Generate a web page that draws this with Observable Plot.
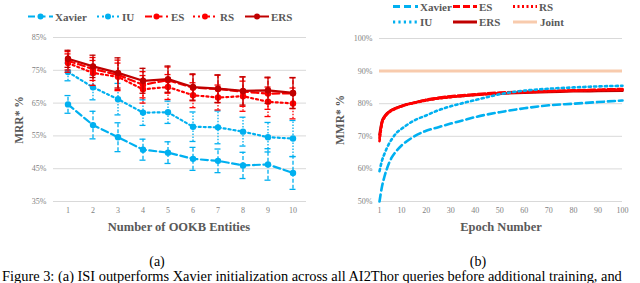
<!DOCTYPE html>
<html><head><meta charset="utf-8">
<script src="https://cdn.jsdelivr.net/npm/d3@7"></script>
<script src="https://cdn.jsdelivr.net/npm/@observablehq/plot@0.6"></script>
<style>
html,body{margin:0;padding:0;background:#fff;}
body{width:640px;height:283px;overflow:hidden;position:relative;font-family:"Liberation Serif","Times New Roman",serif;}
.abs{position:absolute;}
.c{position:absolute;transform:translate(-50%,-50%);white-space:nowrap;line-height:1;}
.title{font-weight:bold;color:#595959;}
.lgt{position:absolute;font-weight:bold;font-size:11px;color:#595959;white-space:nowrap;line-height:1;transform:translateY(-50%);}
</style>
</head><body>
<div id="chartA" class="abs" style="left:0;top:0"></div>
<div id="chartB" class="abs" style="left:320px;top:0"></div>
<svg id="legendSvg" class="abs" style="left:0;top:0" width="640" height="40"></svg>
<div id="labels"></div>
<script>
// ---------- Data: panel (a) ----------
const entities = [1,2,3,4,5,6,7,8,9,10];
const seriesNamesA = ["Xavier","IU","ES","RS","ERS"];
const xavierA = [64.6,58.3,54.6,50.8,49.9,48.0,47.4,46.0,46.3,43.7];
const xavierErrA = [2.7,4.2,4.4,3.2,3.3,3.5,3.6,4.0,4.8,5.0];
const iuA = [74.5,69.8,66.2,62.1,62.2,57.8,57.6,56.3,54.6,54.2];
const iuErrA = [2.7,3.8,4.8,3.9,3.4,4.5,5.0,4.4,4.5,5.5];
const esA = [77.9,75.4,73.6,70.6,72.0,69.7,69.3,68.5,67.9,68.0];
const esErrA = [2.8,3.5,4.5,4.0,4.0,4.0,4.2,4.5,4.8,4.7];
const rsA = [77.2,74.2,73.0,69.2,69.9,67.4,66.7,67.1,65.4,64.9];
const rsErrA = [2.8,3.8,4.2,4.2,3.8,3.8,3.8,4.6,4.5,4.7];
const ersA = [78.5,76.2,74.2,71.8,72.3,69.9,69.4,68.7,68.9,68.1];
const ersErrA = [2.6,3.4,4.6,3.8,4.0,4.0,4.2,4.3,4.0,4.7];
const yTicksA = [35,45,55,65,75,85];

// ---------- Data: panel (b) ----------
const epochs = [1,2,3,4,5,6,8,10,12,15,20,25,30,35,40,50,60,70,80,90,100];
const seriesNamesB = ["Xavier","IU","ES","RS","ERS"];
const xavierB = [50.0,54.5,57.6,60.0,62.0,63.5,65.6,67.2,68.4,69.9,71.7,72.8,73.9,74.9,75.9,77.4,78.6,79.5,80.0,80.5,81.0];
const iuB = [59.3,62.5,64.6,66.4,67.9,69.1,71.1,72.3,73.4,74.8,76.4,78.0,79.2,80.2,81.1,82.9,84.0,84.6,85.0,85.3,85.5];
const esB = [69.5,74.2,75.9,76.9,77.5,78.0,78.7,79.2,79.7,80.3,81.2,81.8,82.3,82.6,82.9,83.4,83.7,83.9,84.1,84.3,84.5];
const rsB = [68.5,73.9,75.7,76.7,77.4,77.9,78.6,79.2,79.7,80.2,81.0,81.6,82.0,82.4,82.7,83.2,83.5,83.8,84.0,84.2,84.3];
const ersB = [70.5,74.6,76.1,77.0,77.6,78.1,78.8,79.3,79.8,80.3,81.1,81.7,82.1,82.4,82.7,83.1,83.4,83.6,83.8,83.9,84.0];
const jointB = [90];
const xTicksB = [1,10,20,30,40,50,60,70,80,90,100];
const yTicksB = [50,60,70,80,90,100];

// ---------- Styles ----------
const BLUE = "#00B0F0", RED = "#FF0000", DARK = "#C00000", PEACH = "#F8CBAD";
const styleA = {
  Xavier: {color: BLUE, dash: "7,3.5", errDash: "4,2"},
  IU:     {color: BLUE, dash: "2,3",   errDash: "1.5,1.5"},
  ES:     {color: RED,  dash: "7,3.5", errDash: "4,2"},
  RS:     {color: RED,  dash: "2,3",   errDash: "1.5,1.5"},
  ERS:    {color: DARK, dash: null,    errDash: null}
};
const styleB = {
  Xavier: {color: BLUE, dash: "7,4"},
  IU:     {color: BLUE, dash: "2.2,3.2"},
  ES:     {color: RED,  dash: "7,3"},
  RS:     {color: RED,  dash: "2,2.5"},
  ERS:    {color: DARK, dash: null},
  Joint:  {color: PEACH, dash: null}
};
const dashOpt = d => d ? {strokeDasharray: d} : {};
const axisStyle = {fontFamily: '"Liberation Serif", "Times New Roman", serif', fontSize: "8px", color: "#7f7f7f", background: "transparent", overflow: "visible"};

// ---------- Panel (a) ----------
const valsA = {Xavier: [xavierA, xavierErrA], IU: [iuA, iuErrA], ES: [esA, esErrA], RS: [rsA, rsErrA], ERS: [ersA, ersErrA]};
const rowsA = seriesNamesA.flatMap(s => entities.map((e, i) => ({
  series: s, x: e, y: valsA[s][0][i], lo: valsA[s][0][i] - valsA[s][1][i], hi: valsA[s][0][i] + valsA[s][1][i]
})));
const marksA = [Plot.gridY(yTicksA, {stroke: "#d9d9d9", strokeOpacity: 1, strokeWidth: 1})];
for (const s of seriesNamesA) {
  const rows = rowsA.filter(d => d.series === s), st = styleA[s];
  marksA.push(
    Plot.ruleX(rows, {x: "x", y1: "lo", y2: "hi", stroke: st.color, strokeWidth: 1.3, ...dashOpt(st.errDash)}),
    Plot.tickY(rows, {x: "x", y: "lo", stroke: st.color, strokeWidth: 1.3, insetLeft: 9.5, insetRight: 9.5}),
    Plot.tickY(rows, {x: "x", y: "hi", stroke: st.color, strokeWidth: 1.3, insetLeft: 9.5, insetRight: 9.5}),
    Plot.line(rows, {x: "x", y: "y", stroke: st.color, strokeWidth: 2.2, ...dashOpt(st.dash)}),
    Plot.dot(rows, {x: "x", y: "y", fill: st.color, r: 3.2})
  );
}
marksA.push(
  Plot.axisX({tickSize: 0, tickPadding: 6, label: null}),
  Plot.axisY({ticks: yTicksA, tickFormat: d => d + "%", tickSize: 0, tickPadding: 7, label: null})
);
document.getElementById("chartA").append(Plot.plot({
  width: 320, height: 225, marginLeft: 53, marginRight: 14, marginTop: 37, marginBottom: 24,
  x: {type: "band", domain: entities, padding: 0},
  y: {domain: [35, 85]},
  style: axisStyle,
  marks: marksA
}));

// ---------- Panel (b) ----------
const valsB = {Xavier: xavierB, IU: iuB, ES: esB, RS: rsB, ERS: ersB};
const rowsB = seriesNamesB.flatMap(s => epochs.map((e, i) => ({series: s, x: e, y: valsB[s][i]})));
const marksB = [
  Plot.gridY(yTicksB, {stroke: "#d9d9d9", strokeOpacity: 1, strokeWidth: 1}),
  Plot.ruleY(jointB, {stroke: PEACH, strokeWidth: 3})
];
for (const s of ["ERS", "RS", "ES", "Xavier", "IU"]) {
  const st = styleB[s];
  marksB.push(Plot.line(rowsB.filter(d => d.series === s), {x: "x", y: "y", stroke: st.color, strokeWidth: 2.6, curve: "monotone-x", ...dashOpt(st.dash)}));
}
marksB.push(
  Plot.axisX({ticks: xTicksB, tickSize: 0, tickPadding: 6, label: null}),
  Plot.axisY({ticks: yTicksB, tickFormat: d => d + "%", tickSize: 0, tickPadding: 7, label: null})
);
document.getElementById("chartB").append(Plot.plot({
  width: 320, height: 225, marginLeft: 59, marginRight: 18, marginTop: 38, marginBottom: 24,
  x: {type: "linear", domain: [1, 100]},
  y: {domain: [50, 100]},
  style: axisStyle,
  marks: marksB
}));

// ---------- Legends ----------
const lsvg = d3.select("#legendSvg");
const labels = document.getElementById("labels");
function legendItem(x0, x1, tx, y, st, label, dot, w) {
  const line = lsvg.append("line").attr("x1", x0).attr("x2", x1).attr("y1", y).attr("y2", y)
    .attr("stroke", st.color).attr("stroke-width", w);
  if (st.dash) line.attr("stroke-dasharray", st.dash);
  if (dot) lsvg.append("circle").attr("cx", (x0 + x1) / 2).attr("cy", y).attr("r", 3).attr("fill", st.color);
  const t = document.createElement("div");
  t.className = "lgt"; t.textContent = label;
  t.style.left = tx + "px"; t.style.top = y + "px";
  labels.append(t);
}
const legA = [["Xavier", 28, 53, 55], ["IU", 97, 119, 122], ["ES", 145, 168, 171], ["RS", 193, 217, 220], ["ERS", 245, 269, 271]];
for (const [n, a, b, t] of legA) legendItem(a, b, t, 16.5, styleA[n], n, true, 2);
const legB = [["Xavier", 393, 418, 420, 6.5], ["ES", 453, 477, 479, 6.5], ["RS", 513, 537, 539, 6.5],
              ["IU", 393, 418, 420, 22], ["ERS", 453, 477, 479, 22], ["Joint", 513, 537, 540, 22]];
for (const [n, a, b, t, y] of legB) legendItem(a, b, t, y, styleB[n], n, false, 3);

// ---------- Titles / captions ----------
function label(text, cx, cy, cls, css) {
  const d = document.createElement("div");
  d.className = "c " + cls; d.textContent = text;
  d.style.left = cx + "px"; d.style.top = cy + "px";
  Object.assign(d.style, css || {});
  labels.append(d);
  return d;
}
label("MRR* %", 20, 120, "title", {fontSize: "11.5px", transform: "translate(-50%,-50%) rotate(-90deg)"});
label("MMR* %", 341, 120, "title", {fontSize: "11.5px", transform: "translate(-50%,-50%) rotate(-90deg)"});
label("Number of OOKB Entities", 179, 227, "title", {fontSize: "12.5px"});
label("Epoch Number", 501, 227, "title", {fontSize: "12.5px"});
label("(a)", 157, 262, "", {fontSize: "14px", color: "#000"});
label("(b)", 478, 262, "", {fontSize: "14px", color: "#000"});
const cap = document.createElement("div");
cap.className = "abs";
cap.style.cssText = "left:2px;top:269px;font-size:14.4px;line-height:1;white-space:nowrap;color:#000;";
cap.textContent = "Figure 3: (a) ISI outperforms Xavier initialization across all AI2Thor queries before additional training, and";
labels.append(cap);
</script>
</body></html>
